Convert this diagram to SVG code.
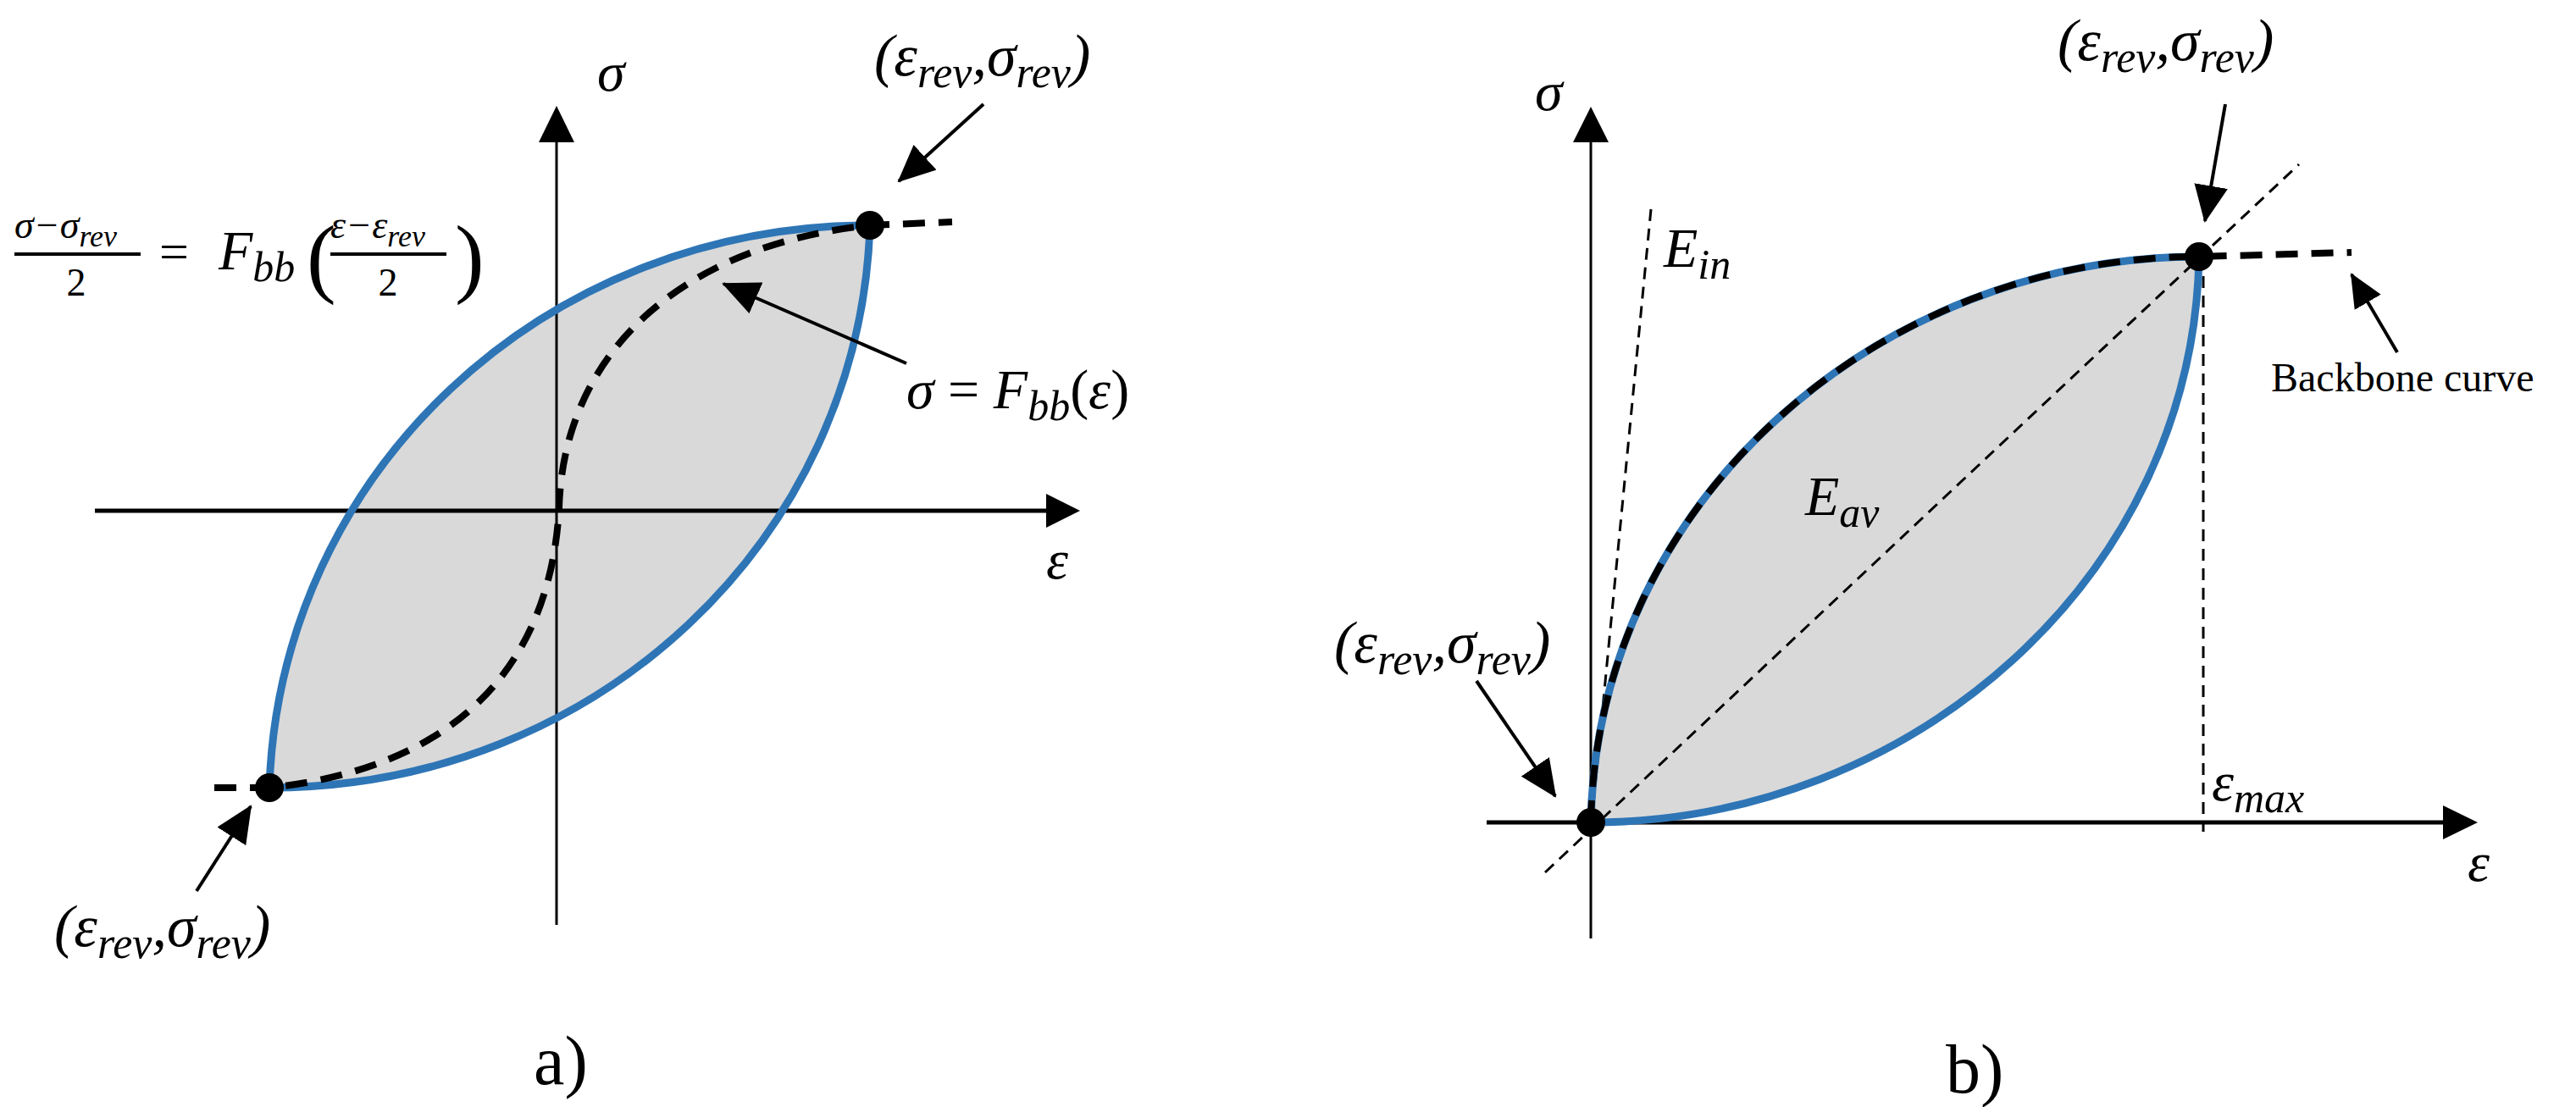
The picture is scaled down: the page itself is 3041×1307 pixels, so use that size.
<svg xmlns="http://www.w3.org/2000/svg" width="3041" height="1307" viewBox="0 0 3041 1307">
<style>
.m{font-family:"Liberation Serif",serif;font-style:italic;fill:#000}
.r{font-family:"Liberation Serif",serif;fill:#000}
.ax{stroke:#000;fill:none}
.lens{fill:#D9D9D9;stroke:none}
.blue{fill:none;stroke:#2E75B6;stroke-width:9}
.bb{fill:none;stroke:#000;stroke-width:8;stroke-dasharray:26 16}
.thin{fill:none;stroke:#000;stroke-width:3;stroke-dasharray:14 9}
.ann{stroke:#000;stroke-width:4;fill:none}
</style>
<defs>
<marker id="ah" markerUnits="userSpaceOnUse" markerWidth="44" markerHeight="40" refX="42" refY="20" orient="auto"><path d="M0,0 L44,20 L0,40 Z" fill="#000"/></marker>
<marker id="ah2" markerUnits="userSpaceOnUse" markerWidth="40" markerHeight="36" refX="38" refY="18" orient="auto"><path d="M0,0 L40,18 L0,36 Z" fill="#000"/></marker>
</defs>

<g id="panel-a">
<path class="lens" d="M318,930 C330,560 640,266 1027,266 C1015,636 705,930 318,930 Z"/>
<line class="ax" x1="657" y1="1092" x2="657" y2="160" stroke-width="3"/>
<path d="M636,168 L657,125 L678,168 Z"/>
<line class="ax" x1="112" y1="603" x2="1240" y2="603" stroke-width="5"/>
<path d="M1235,583 L1275,603 L1235,623 Z"/>
<path class="blue" d="M318,930 C330,560 640,266 1027,266 C1015,636 705,930 318,930"/>
<path class="bb" d="M253,930 L318,930 C545,906 650,780 660,600 C665,420 800,290 1027,266 L1124,262"/>
<circle cx="1027" cy="266" r="17"/>
<circle cx="318" cy="930" r="17"/>
<text class="m" x="705" y="107" font-size="66">σ</text>
<text class="m" x="1235" y="683" font-size="66">ε</text>
<text class="m" x="1032" y="89" font-size="70">(ε<tspan font-size="52" dy="14">rev</tspan><tspan dy="-14">,σ</tspan><tspan font-size="52" dy="14">rev</tspan><tspan dy="-14">)</tspan></text>
<text class="m" x="64" y="1117" font-size="70">(ε<tspan font-size="52" dy="14">rev</tspan><tspan dy="-14">,σ</tspan><tspan font-size="52" dy="14">rev</tspan><tspan dy="-14">)</tspan></text>
<text class="m" x="1070" y="482" font-size="66">σ <tspan font-style="normal">=</tspan>  F<tspan font-size="50" dy="14">bb</tspan><tspan dy="-14" font-style="normal">(</tspan>ε<tspan font-style="normal">)</tspan></text>
<g id="formula">
<text class="m" x="17" y="281" font-size="46">σ−σ<tspan font-size="36" dy="10">rev</tspan></text>
<line x1="17" y1="300" x2="166" y2="300" stroke="#000" stroke-width="4"/>
<text class="r" x="90" y="349" font-size="46" text-anchor="middle">2</text>
<text class="r" x="188" y="318" font-size="62">=</text>
<text class="m" x="258" y="318" font-size="66">F<tspan font-size="50" dy="14">bb</tspan></text>
<text class="r" x="362" y="338" font-size="104">(</text>
<text class="m" x="390" y="281" font-size="46">ε−ε<tspan font-size="36" dy="10">rev</tspan></text>
<line x1="390" y1="300" x2="527" y2="300" stroke="#000" stroke-width="4"/>
<text class="r" x="458" y="349" font-size="46" text-anchor="middle">2</text>
<text class="r" x="537" y="338" font-size="104">)</text>
</g>
<text class="r" x="630" y="1280" font-size="82">a)</text>
</g>

<g id="panel-b">
<path class="lens" d="M1878,971 C1885,590 2220,303 2596,303 C2589,684 2254,971 1878,971 Z"/>
<line class="ax" x1="1878" y1="1108" x2="1878" y2="160" stroke-width="3"/>
<path d="M1857,168 L1878,126 L1899,168 Z"/>
<line class="ax" x1="1755" y1="971" x2="2890" y2="971" stroke-width="5"/>
<path d="M2884,951 L2925,971 L2884,991 Z"/>
<line class="thin" x1="1824" y1="1030" x2="2714" y2="194"/>
<line class="thin" x1="1949" y1="247" x2="1880" y2="960"/>
<line class="thin" x1="2601" y1="303" x2="2601" y2="982"/>
<path class="blue" d="M1878,971 C1885,590 2220,303 2596,303 C2589,684 2254,971 1878,971"/>
<path class="bb" d="M1878,971 C1885,590 2220,303 2596,303 L2776,298"/>
<circle cx="2596" cy="303" r="17"/>
<circle cx="1878" cy="971" r="17"/>
<text class="m" x="1812" y="130" font-size="66">σ</text>
<text class="m" x="2913" y="1040" font-size="66">ε</text>
<text class="m" x="2429" y="71" font-size="70">(ε<tspan font-size="52" dy="14">rev</tspan><tspan dy="-14">,σ</tspan><tspan font-size="52" dy="14">rev</tspan><tspan dy="-14">)</tspan></text>
<text class="m" x="1575" y="782" font-size="70">(ε<tspan font-size="52" dy="14">rev</tspan><tspan dy="-14">,σ</tspan><tspan font-size="52" dy="14">rev</tspan><tspan dy="-14">)</tspan></text>
<text class="m" x="1964" y="315" font-size="66">E<tspan font-size="50" dy="14">in</tspan></text>
<text class="m" x="2131" y="608" font-size="66">E<tspan font-size="50" dy="14">av</tspan></text>
<text class="m" x="2611" y="945" font-size="66">ε<tspan font-size="50" dy="14">max</tspan></text>
<text class="r" x="2681" y="462" font-size="48">Backbone curve</text>
<text class="r" x="2297" y="1290" font-size="82">b)</text>
</g>

<g id="connectors">
<line class="ann" x1="1161" y1="123" x2="1061" y2="214" marker-end="url(#ah)"/>
<line class="ann" x1="232" y1="1052" x2="296" y2="952" marker-end="url(#ah)"/>
<line class="ann" x1="1070" y1="429" x2="854" y2="335" marker-end="url(#ah)"/>
<line class="ann" x1="2627" y1="123" x2="2603" y2="261" marker-end="url(#ah)"/>
<line class="ann" x1="1743" y1="804" x2="1836" y2="940" marker-end="url(#ah)"/>
<line class="ann" x1="2830" y1="416" x2="2776" y2="324" marker-end="url(#ah2)"/>
</g>
</svg>
